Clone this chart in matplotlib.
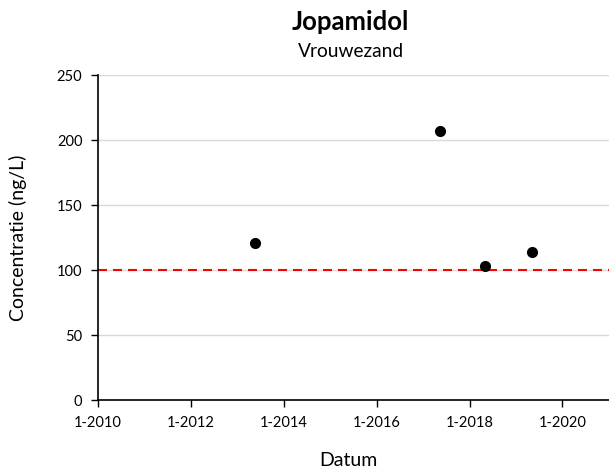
import matplotlib
matplotlib.use("Agg")
import matplotlib.pyplot as plt
import pandas as pd

plt.rcParams['font.family'] = ['Lato', 'DejaVu Sans']

# data
sample_dates = pd.to_datetime(["2013-05-20", "2017-05-12", "2018-05-05", "2019-05-05"])
concentrations = [121, 207, 103, 114]
norm_value = 100
tick_dates = pd.to_datetime(["2010-01-01", "2012-01-01", "2014-01-01",
                             "2016-01-01", "2018-01-01", "2020-01-01"])
tick_labels = ["1-2010", "1-2012", "1-2014", "1-2016", "1-2018", "1-2020"]
x_start, x_end = pd.Timestamp("2010-01-01"), pd.Timestamp("2021-01-01")

fig = plt.figure(figsize=(6.09, 4.75), dpi=100)
ax = fig.add_axes([0.1604, 0.1573, 0.8396, 0.6842])

ax.plot([x_start, x_end], [norm_value, norm_value], color="#ff0000",
        linewidth=1.5, dashes=(4.3, 2.9), zorder=2)
ax.plot(sample_dates, concentrations, "o", color="black", markersize=7, zorder=3)

ax.set_xlim(x_start, x_end)
ax.set_ylim(0, 250)
ax.set_yticks(range(0, 251, 50))
ax.set_xticks(tick_dates)
ax.set_xticklabels(tick_labels)
ax.grid(axis="y", color="#d9d9d9", linewidth=1)
ax.set_axisbelow(True)

for side in ["top", "right"]:
    ax.spines[side].set_visible(False)
for side in ["left", "bottom"]:
    ax.spines[side].set_color("black")
    ax.spines[side].set_linewidth(1.2)
ax.tick_params(axis="both", direction="out", length=5, width=1,
               labelsize=10.5, colors="black", pad=6)

ax.set_xlabel("Datum", fontsize=14)
ax.set_ylabel("Concentratie (ng/L)", fontsize=14)
ax.xaxis.set_label_coords(0.49, -0.16)
ax.yaxis.set_label_coords(-0.138, 0.5)

fig.text(0.576, 0.953, "Jopamidol", ha="center", va="center",
         fontsize=18.5, fontweight="bold")
fig.text(0.576, 0.892, "Vrouwezand", ha="center", va="center", fontsize=13.8)

fig.savefig("out.png", dpi=100)
